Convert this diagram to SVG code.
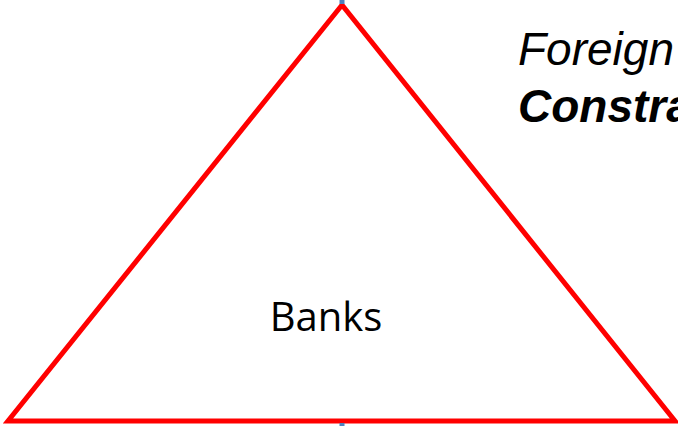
<svg xmlns="http://www.w3.org/2000/svg" width="678" height="426" viewBox="0 0 678 426">
  <style>
    .tri { fill: #ffffff; stroke: #ff0000; stroke-width: 5; stroke-linejoin: miter; }
    .handle { fill: #4f81bd; }
    .lbl { font-family: "Open Sans", "Liberation Sans", sans-serif; font-size: 40px; fill: #000000; }
    .title { font-family: "Liberation Sans", Arial, sans-serif; font-size: 46px; font-style: italic; fill: #000000; }
  </style>
  <rect width="678" height="426" fill="#ffffff"/>
  <g id="triangle">
    <polygon class="tri" points="342,5 8,421 675,421"/>
    <rect class="handle" x="339.5" y="0" width="5" height="4"/>
    <rect class="handle" x="339.5" y="423" width="5" height="3"/>
    <text class="lbl" x="326" y="331" text-anchor="middle">Banks</text>
  </g>
  <g id="title">
    <text class="title" x="518" y="65">Foreign</text>
    <text class="title" x="518" y="122" font-weight="bold">Constraint</text>
  </g>
  <g id="connectors"/>
</svg>
